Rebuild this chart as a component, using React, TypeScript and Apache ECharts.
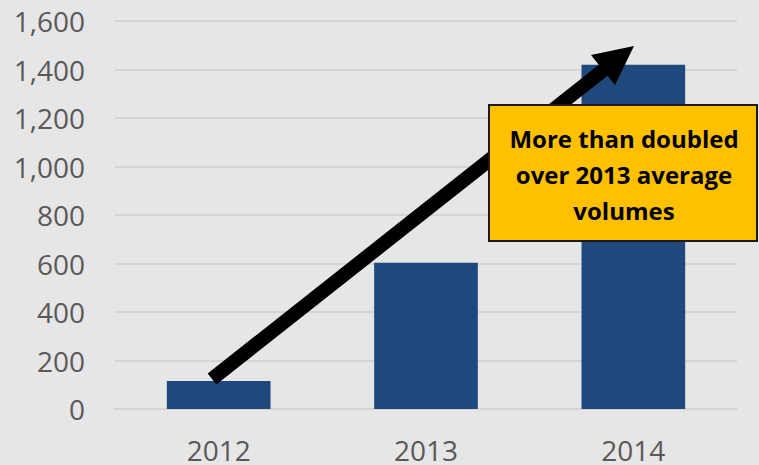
import React, { useEffect, useRef } from "react";
import * as echarts from "echarts";

const categories = ["2012", "2013", "2014"];
const volumes = [115, 603, 1420];
const yTicks = { min: 0, max: 1600, interval: 200 };
const annotationLines = ["More than doubled", "over 2013 average", "volumes"];

export default function App() {
  const ref = useRef<HTMLDivElement>(null);
  useEffect(() => {
    document.body.style.margin = "0";
    const chart = echarts.init(ref.current!, undefined, { renderer: "svg" });
    const font = "'Open Sans', 'Liberation Sans', sans-serif";
    chart.setOption({
      animation: false,
      backgroundColor: "#e6e6e6",
      grid: { left: 115, right: 22, top: 21, bottom: 56 },
      xAxis: {
        type: "category",
        data: categories,
        axisLine: { show: true, lineStyle: { color: "#d4d4d4", width: 2 } },
        axisTick: { show: false },
        axisLabel: {
          color: "#595959",
          fontSize: 28,
          lineHeight: 20,
          fontFamily: font,
          margin: 31,
        },
      },
      yAxis: {
        type: "value",
        min: yTicks.min,
        max: yTicks.max,
        interval: yTicks.interval,
        axisLine: { show: false },
        axisTick: { show: false },
        splitLine: { lineStyle: { color: "#d4d4d4", width: 2 } },
        axisLabel: {
          color: "#595959",
          fontSize: 28,
          fontFamily: font,
          margin: 30,
          formatter: (v: number) => v.toLocaleString("en-US"),
        },
      },
      series: [
        {
          type: "bar",
          data: volumes,
          barWidth: "50%",
          itemStyle: { color: "#1f497d" },
        },
      ],
      graphic: [
        {
          type: "line",
          shape: { x1: 212, y1: 379, x2: 606, y2: 68 },
          style: { stroke: "#000", lineWidth: 14 },
          z: 100,
        },
        {
          type: "polygon",
          shape: { points: [[634, 46], [591, 55], [615, 85]] },
          style: { fill: "#000" },
          z: 101,
        },
        {
          type: "rect",
          shape: { x: 489, y: 105, width: 268, height: 136 },
          style: { fill: "#ffc000", stroke: "#1a1a1a", lineWidth: 2 },
          z: 102,
        },
        {
          type: "text",
          x: 624,
          y: 174,
          style: {
            text: annotationLines.join("\n"),
            fill: "#000",
            font: `bold 24px ${font}`,
            lineHeight: 36,
            align: "center",
            verticalAlign: "middle",
          },
          z: 103,
        },
      ],
    });
    return () => chart.dispose();
  }, []);
  return <div ref={ref} style={{ width: 759, height: 465 }} />;
}
